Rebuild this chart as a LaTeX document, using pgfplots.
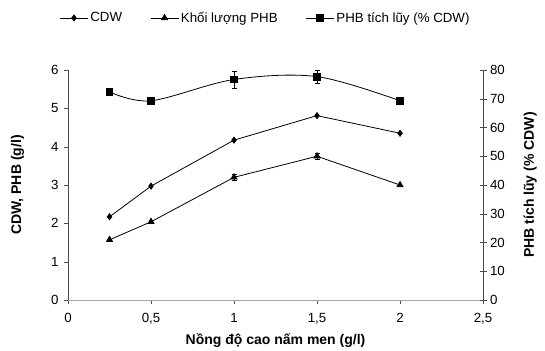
\documentclass[border=0pt]{standalone}
\usepackage{fontspec}
\setmainfont{Liberation Sans}
\usepackage{pgfplots}
\pgfplotsset{compat=1.18}
\begin{document}
\begin{tikzpicture}[font=\fontsize{13.3}{15}\selectfont]
\path[use as bounding box] (-68pt,-50pt) rectangle (477pt,300pt);
\begin{axis}[
  scale only axis, width=415pt, height=230pt,
  xmin=0, xmax=2.5, ymin=0, ymax=6,
  axis x line*=bottom, axis y line*=left,
  x axis line style={draw=gray!70, -},
  y axis line style={draw=black!70, -},
  xtick={0,0.5,1,1.5,2,2.5},
  xticklabels={0,{0,5},1,{1,5},2,{2,5}},
  ytick={0,1,...,6},
  tick style={black!70},
  tick align=outside,
  major tick length=4pt,
  xticklabel style={yshift=-6pt},
  yticklabel style={xshift=-2pt},
  /pgf/number format/assume math mode=true,
  xlabel={\fontsize{14}{16}\selectfont\textbf{Nồng độ cao nấm men (g/l)}},
  ylabel={\fontsize{14}{16}\selectfont\textbf{CDW, PHB (g/l)}},
  xlabel style={yshift=-2pt},
  ylabel style={yshift=20pt},
  legend columns=3,
  legend image code/.code={\draw[mark repeat=2,mark phase=2] plot coordinates {(0pt,0pt) (14pt,0pt) (28pt,0pt)};},
  legend style={draw=none, at={(0.476,1.226)}, anchor=center, inner sep=0pt,
    /tikz/every even column/.append style={column sep=26pt}},
  legend cell align=left,
]
\addplot[black, thick, mark=diamond*, mark size=3pt] coordinates {
  (0.25,2.17) (0.5,2.97) (1,4.17) (1.5,4.81) (2,4.35)};
\addlegendentry{CDW}
\addplot[black, thick, mark=triangle*, mark size=3.5pt,
  error bars/.cd, y dir=both, y explicit, error bar style={black, thin}, error mark options={rotate=90, mark size=2.5pt, black}]
  coordinates {
  (0.25,1.57) +- (0,0)
  (0.5,2.04) +- (0,0)
  (1,3.2) +- (0,0.08)
  (1.5,3.75) +- (0,0.08)
  (2,3.0) +- (0,0)};
\addlegendentry{Khối lượng PHB}
\addlegendimage{black, thick, mark=square*, mark size=3.3pt}
\addlegendentry{PHB tích lũy (\% CDW)}
\end{axis}
\begin{axis}[
  scale only axis, width=415pt, height=230pt,
  xmin=0, xmax=2.5, ymin=0, ymax=80,
  axis x line=none, axis y line*=right,
  y axis line style={draw=black!70, -},
  ytick={0,10,...,80},
  tick style={black!70},
  tick align=center,
  major tick length=7pt,
  /pgf/number format/assume math mode=true,
  ylabel={\fontsize{14}{16}\selectfont\textbf{PHB tích lũy (\% CDW)}},
  ylabel style={yshift=-12pt},
]
\addplot[black, thick, smooth, tension=0.55, mark=square*, mark size=3.3pt,
  error bars/.cd, y dir=both, y explicit, error bar style={black, thin}, error mark options={rotate=90, mark size=2.5pt, black}]
  coordinates {
  (0.25,72.4) +- (0,0)
  (0.5,69.3) +- (0,0)
  (1,76.7) +- (0,3.0)
  (1.5,77.7) +- (0,2.2)
  (2,69.3) +- (0,0)};
\end{axis}
\end{tikzpicture}
\end{document}
